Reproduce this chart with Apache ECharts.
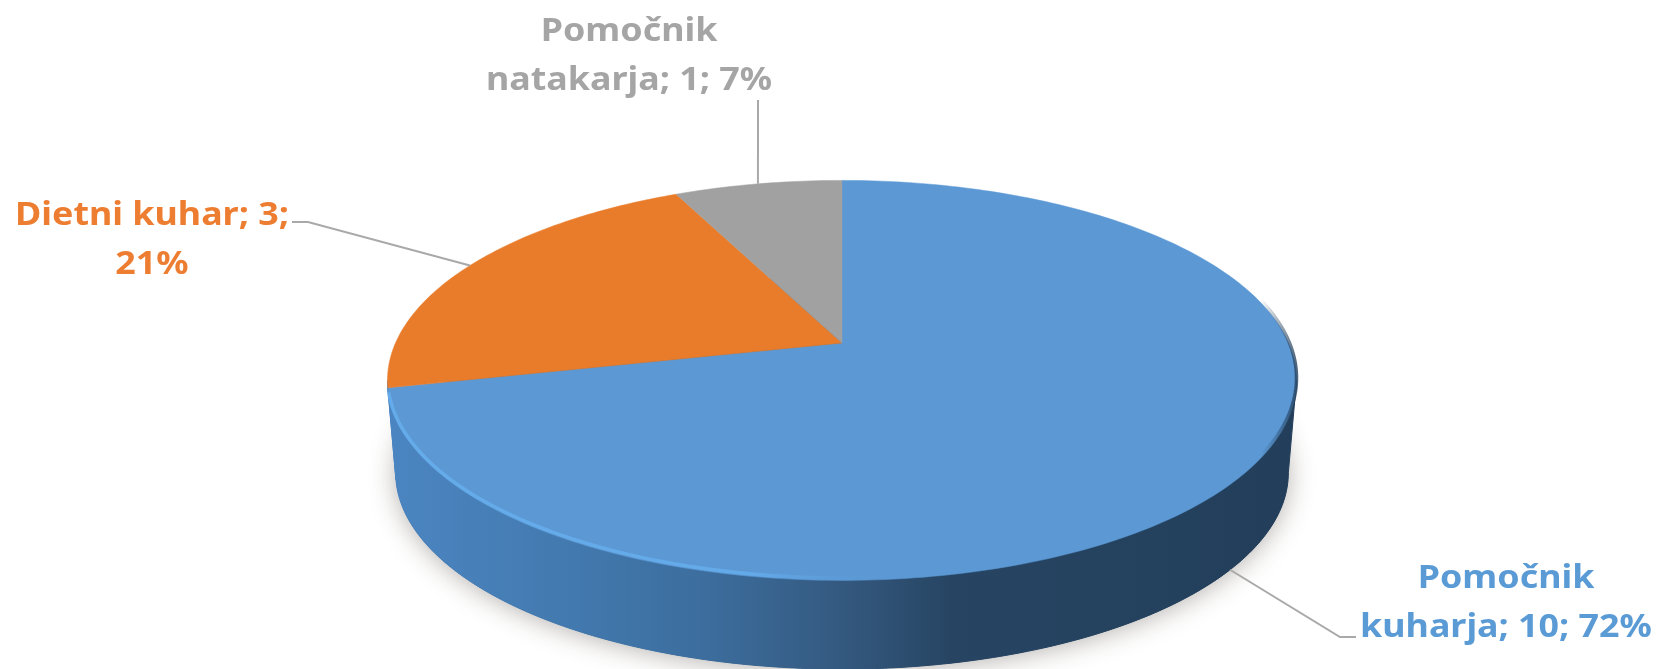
<!DOCTYPE html>
<html>
<head>
<meta charset="utf-8">
<style>html,body{margin:0;padding:0;background:#fff}#c{width:1663px;height:669px}</style>
<script src="https://cdn.jsdelivr.net/npm/echarts@6/dist/echarts.min.js"></script>
</head>
<body>
<div id="c"></div>
<script>
const categories = ['Pomočnik kuharja', 'Dietni kuhar', 'Pomočnik natakarja'];
const values = [10, 3, 1];
const percentLabels = [72, 21, 7];
const lineBreakAfter = ['Pomočnik', 'Dietni kuhar; 3;', 'Pomočnik'];
const sliceColors = ['#5b98d4', '#e97c2b', '#a1a1a1'];
const labelColors = ['#5b9bd5', '#ed7d31', '#a5a5a5'];

// layout of the tilted pie (perspective projection of a circle)
const P = {cx: 842, cy: 343, A: 193, B: 446.5, k: 0.187, depth: 93, floor: 0.982};
const labelBox = [
  {x: 1506, y: 603, elbow: [[1340, 637], [1356, 637]], floor: true},
  {x: 152, y: 240, elbow: [[308, 222], [292, 222]]},
  {x: 629, y: 56, elbow: [[758, 100]]}
];
const total = values.reduce((a, b) => a + b, 0);
const D = Math.PI / 180;
function proj(deg, lower) {
  const u = Math.sin(deg * D), v = Math.cos(deg * D), w = 1 + P.k * v;
  const X = P.B * u / w, Y = -P.A * v / w;
  return lower ? [P.cx + X * P.floor, P.cy + P.depth + Y * P.floor] : [P.cx + X, P.cy + Y];
}
function arc(a, b, lower) {
  const pts = [], n = Math.max(2, Math.ceil(Math.abs(b - a)));
  for (let i = 0; i <= n; i++) pts.push(proj(a + (b - a) * i / n, lower));
  return pts;
}
function range(i) {
  let s = 0;
  for (let j = 0; j < i; j++) s += values[j];
  return [s / total * 360, (s + values[i]) / total * 360];
}
const sideGradient = new echarts.graphic.LinearGradient(395, 0, 1290, 0, [
  {offset: 0, color: '#4b85c1'}, {offset: 0.2, color: '#4279ae'},
  {offset: 0.35, color: '#3c6d9d'}, {offset: 0.5, color: '#34597f'},
  {offset: 0.62, color: '#274563'}, {offset: 1, color: '#223e5a'}
], true);
const rimGradient = new echarts.graphic.LinearGradient(388, 0, 1297, 0, [
  {offset: 0, color: 'rgba(104,178,242,0.75)'}, {offset: 0.4, color: 'rgba(104,178,242,0.7)'},
  {offset: 0.56, color: 'rgba(91,152,212,0)'}, {offset: 0.96, color: 'rgba(34,62,90,0)'},
  {offset: 1, color: 'rgba(34,62,90,0.8)'}
], true);

function renderSide(params) {
  const i = params.dataIndex, r = range(i);
  const a = Math.max(r[0], 100.8), b = Math.min(r[1], 259.2);
  const children = [];
  if (i === 0) {
    children.push({type: 'polygon', shape: {points: arc(0, 360, true)},
      style: {fill: '#2d4f70', shadowBlur: 26, shadowColor: 'rgba(60,50,40,0.38)', shadowOffsetY: 2}});
  }
  if (b > a) {
    const pts = arc(a, b, false).concat(arc(a, b, true).reverse());
    children.push({type: 'polygon', shape: {points: pts},
      style: {fill: sideGradient, stroke: sideGradient, lineWidth: 1}});
  }
  return {type: 'group', children};
}
function renderTop(params) {
  const i = params.dataIndex, r = range(i);
  const pts = [[P.cx, P.cy]].concat(arc(r[0], r[1], false));
  const children = [{type: 'polygon', shape: {points: pts},
    style: {fill: sliceColors[i], stroke: sliceColors[i], lineWidth: 0.5}}];
  if (i === 0) {
    children.push({type: 'polyline', shape: {points: arc(65, r[1] - 2, false).map(p => [p[0], p[1] - 2.5])},
      style: {fill: 'none', stroke: rimGradient, lineWidth: 3.5}});
  }
  return {type: 'group', children};
}
function renderLabel(params) {
  const i = params.dataIndex, r = range(i), box = labelBox[i];
  const anchor = proj((r[0] + r[1]) / 2, !!box.floor);
  const full = `${categories[i]}; ${values[i]}; ${percentLabels[i]}%`;
  const text = lineBreakAfter[i] + '\n' + full.slice(lineBreakAfter[i].length + 1);
  return {type: 'group', children: [
    {type: 'polyline', shape: {points: [anchor].concat(box.elbow)},
      style: {fill: 'none', stroke: '#a9a9a9', lineWidth: 2}},
    {type: 'text', x: box.x, y: box.y, scaleX: 1.12, style: {x: 0, y: 0, text, fill: labelColors[i],
      font: 'bold 32px "Noto Sans"', align: 'center', verticalAlign: 'middle', lineHeight: 49}}
  ]};
}
const chart = echarts.init(document.getElementById('c'), null, {renderer: 'canvas'});
const seriesData = values.map((v, i) => ({name: categories[i], value: v}));
chart.setOption({
  backgroundColor: '#fff',
  animation: false,
  series: [
    {type: 'custom', coordinateSystem: 'none', silent: true, z: 1, data: seriesData, renderItem: renderSide},
    {type: 'custom', coordinateSystem: 'none', silent: true, z: 2, data: seriesData, renderItem: renderTop},
    {type: 'custom', coordinateSystem: 'none', silent: true, z: 3, data: seriesData, renderItem: renderLabel}
  ]
});
</script>
</body>
</html>
